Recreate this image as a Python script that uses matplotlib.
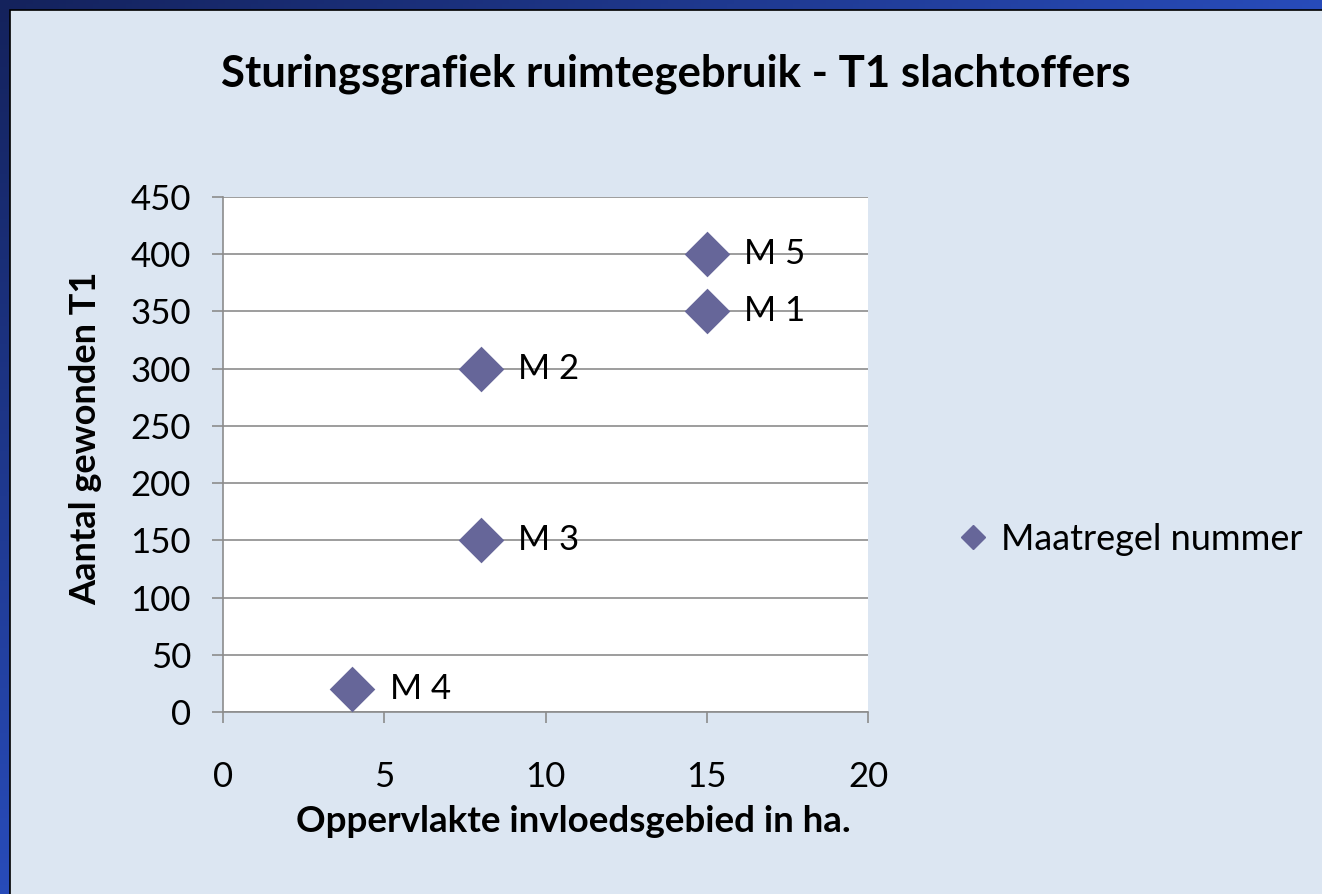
import numpy as np
import matplotlib.pyplot as plt
from matplotlib.patches import Rectangle
from matplotlib.lines import Line2D

plt.rcParams['font.family'] = ['Lato', 'DejaVu Sans']

# data
labels = ['M 1', 'M 2', 'M 3', 'M 4', 'M 5']
opp = [15, 8, 8, 4, 15]
gewonden = [350, 300, 150, 20, 400]
xticks = [0, 5, 10, 15, 20]
yticks = [0, 50, 100, 150, 200, 250, 300, 350, 400, 450]

W, H = 1322, 894
fig = plt.figure(figsize=(W / 100, H / 100), dpi=100)

# gradient border background (dark top-left -> brighter blue)
bg = fig.add_axes([0, 0, 1, 1])
gx, gy = np.meshgrid(np.linspace(0, 1, 200), np.linspace(0, 1, 200))
g = np.clip(0.9 * gx + 0.9 * gy, 0, 1)
dark = np.array([0x14, 0x22, 0x5c]) / 255
bright = np.array([0x2a, 0x50, 0xc4]) / 255
img = dark[None, None, :] * (1 - g[..., None]) + bright[None, None, :] * g[..., None]
bg.imshow(img, extent=[0, 1, 0, 1], aspect='auto', zorder=0)
bg.add_patch(Rectangle((9.5 / W, -0.5), 2, 1.5 - 9.5 / H,
                       facecolor='#dce6f2', edgecolor='black', lw=1.2, zorder=1,
                       clip_on=False))
bg.set_xlim(0, 1)
bg.set_ylim(0, 1)
bg.axis('off')

ax = fig.add_axes([223 / W, 1 - 712 / H, (868 - 223) / W, (712 - 197) / H])
ax.set_facecolor('white')
ax.scatter(opp, gewonden, marker='D', s=540, color='#666699', zorder=3, linewidths=0)
for lab, x, y in zip(labels, opp, gewonden):
    ax.annotate(lab, (x, y), xytext=(27, 0), textcoords='offset points',
                ha='left', va='center', fontsize=25)

ax.set_xlim(0, 20)
ax.set_ylim(0, 450)
ax.set_xticks(xticks)
ax.set_yticks(yticks)
ax.yaxis.grid(True, color='#8c8c8c', lw=1.2)
ax.set_axisbelow(True)
for s in ['top', 'right']:
    ax.spines[s].set_visible(False)
for s in ['left', 'bottom']:
    ax.spines[s].set_color('#8c8c8c')
    ax.spines[s].set_linewidth(1.2)
ax.tick_params(axis='both', direction='out', length=8, width=1.2, color='#8c8c8c',
               labelsize=25)
ax.tick_params(axis='x', pad=27)
ax.tick_params(axis='y', pad=15)

fig.text(676 / W, 1 - 87 / H, 'Sturingsgrafiek ruimtegebruik - T1 slachtoffers',
         ha='center', va='baseline', fontsize=31.5, fontweight='bold')
fig.text(573 / W, 1 - 822 / H, 'Oppervlakte invloedsgebied in ha.',
         ha='center', va='center', fontsize=26.5, fontweight='bold')
fig.text(86 / W, 1 - 438 / H, 'Aantal gewonden T1', rotation=90,
         ha='center', va='center', fontsize=26, fontweight='bold')

handle = Line2D([], [], marker='D', linestyle='none', color='#666699', markersize=12.5)
fig.legend([handle], ['Maatregel nummer'], loc='center left',
           bbox_to_anchor=(959 / W, 1 - 539 / H), frameon=False, fontsize=26,
           handlelength=0.8, handletextpad=0.36, borderpad=0, borderaxespad=0)

fig.savefig('out.png', dpi=100)
